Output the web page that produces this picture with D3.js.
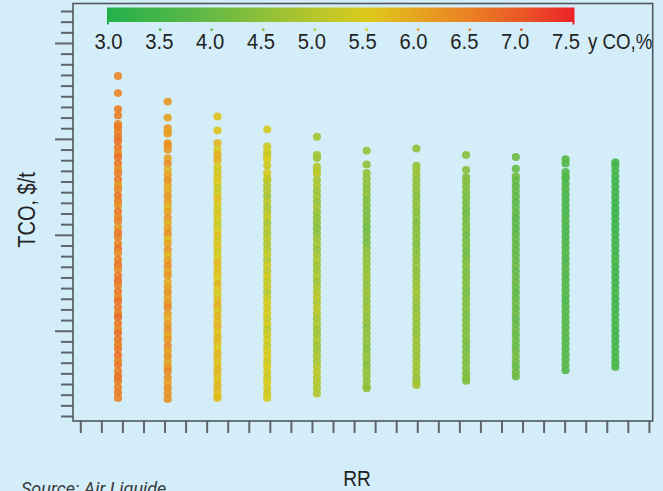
<!DOCTYPE html>
<html>
<head>
<meta charset="utf-8">
<script src="https://cdn.jsdelivr.net/npm/d3@7"></script>
<style>
	html, body { margin: 0; padding: 0; background: #d4eef9; }
	svg { display: block; font-family: 'Liberation Sans', Arial, sans-serif; }
	.vis__axis line { stroke: #5e656c; stroke-width: 2; }
	.vis__axis path { display: none; }
	.vis__frame { fill: none; stroke: #50575e; stroke-width: 1.6; }
	.vis__text { fill: #232323; }
</style>
</head>
<body>
<svg id="chart" width="663" height="491"></svg>
<script>
// RR categories (x), one column of simulated cases each
var RR = ['0.50', '0.55', '0.60', '0.65', '0.70', '0.75', '0.80', '0.85', '0.90', '0.95', '1.00'];

// points per RR column: [TCO $/t, y CO %]
var pointsRR050 = [[259.5,6.4],[251.5,6.4],[244,6.5],[241,6.5],[237,6.4],[235.5,6.6],
	[233.5,6.5],[231,6.6],[229,6.7],[226,6.6],[223.5,6.4],[221.5,6.7],[218.5,6.6],[216,6.3],[214,6.5],[211,6.6],
	[208.5,6.2],[206.5,6.4],[203.5,6.6],[201,6.5],[199,6.3],[196,6.6],[193.5,6.4],[191.5,6.5],[188.5,6.2],[186,6.6],
	[184,6.5],[181,6.4],[178.5,6.7],[176.5,6.3],[173.5,6.5],[171,6.6],[169,6.4],[166,6.6],[163.5,6.7],[161.5,6.5],
	[158.5,6.6],[156,6.4],[154,6.7],[151,6.6],[148.5,6.5],[146.5,6.8],[143.5,6.6],[141,6.4],[139,6.7],[136,6.6],
	[133.5,6.5],[131.5,6.6],[128.5,6.7],[126,6.4],[124,6.6],[121,6.5],[118.5,6.7],[116.5,6.6],[113.5,6.5],[111,6.6],[108.5,6.5]];
var pointsRR055 = [[247.5,6.2],[240,6.1],[235,6.2],[233.5,6.0],[232.5,6.1],[228,6.2],[227,6.3],[225,6.2],[221,6.0],[218.5,6.3],
	[215.5,5.8],[213,6.1],[210.5,6.3],[208,6.0],[205.5,5.9],[203,6.2],[200.5,6.1],[198,5.8],[196,6.0],[193,6.2],
	[190.5,5.9],[188,6.1],[185.5,6.3],[183,5.7],[181,6.0],[178,6.2],[175.5,5.8],[173,6.1],[170.5,6.3],[168,6.0],
	[166,6.2],[163,5.9],[160.5,6.1],[158,6.3],[155.5,6.0],[153,6.2],[151,6.4],[148,6.1],[145.5,5.9],[143,6.2],
	[140.5,6.3],[138,6.0],[136,6.2],[133,6.4],[130.5,6.1],[128,6.3],[125.5,6.0],[123,6.2],[121,6.4],[118,6.3],
	[115.5,6.1],[113,6.3],[110.5,6.2],[108,6.3]];
var pointsRR060 = [[240.5,5.6],[234,5.6],[228,5.8],[225,5.4],[222.5,5.9],[220,5.8],
	[217,5.4],[214.5,5.3],[212,5.6],[209.5,5.5],[207,5.2],[204.5,5.4],[202,5.7],[199.5,5.5],[197,5.3],[194.5,5.6],
	[192,5.4],[189.5,5.2],[187,5.5],[184.5,5.7],[182,5.4],[179.5,5.6],[177,5.3],[174.5,5.5],[172,5.8],[169.5,5.6],
	[167,5.7],[164.5,5.5],[162,5.8],[159.5,5.6],[157,5.4],[154.5,5.7],[152,5.9],[149.5,5.6],[147,5.8],[144.5,5.7],
	[142,5.9],[139.5,5.6],[137,5.8],[134.5,5.7],[132,5.5],[129.5,5.8],[127,5.7],[124.5,5.6],[122,5.8],[119.5,5.7],
	[117,5.6],[114.5,5.8],[112,5.7],[109.5,5.6],[108.5,5.7]];
var pointsRR065 = [[234.5,5.4],[226.5,5.3],[224,5.4],[222.5,5.2],[220.5,5.5],[217.5,5.3],[214,5.4],[211.5,5.2],
	[210.5,5.1],[208,4.9],[205.5,5.0],[203,4.8],[200.5,5.1],[198,4.9],[195.5,5.0],[193,5.2],[190.5,4.8],[188,5.0],
	[185.5,4.9],[183,5.1],[180.5,4.9],[178,5.0],[175.5,5.2],[173,5.0],[170.5,5.3],[168,5.1],[165.5,5.4],[163,5.2],
	[160.5,5.3],[158,5.0],[155.5,5.2],[153,5.4],[150.5,5.3],[148,5.5],[145.5,5.2],[143,5.4],[140.5,5.1],[138,5.3],
	[135.5,5.4],[133,5.2],[130.5,5.4],[128,5.5],[125.5,5.3],[123,5.5],[120.5,5.4],[118,5.3],[115.5,5.5],[113,5.4],
	[110.5,5.3],[108.5,5.4]];
var pointsRR070 = [[231,4.8],[222.5,4.8],[221,4.7],[217,5.0],[215,4.9],[213.5,5.1],
	[210.5,4.8],[208,4.9],[205.5,4.7],[203,4.8],[200.5,4.6],[198,4.8],[195.5,4.6],[193,4.5],[190.5,4.6],[188,4.4],
	[185.5,4.5],[183,4.7],[180.5,4.8],[178,4.6],[175.5,4.8],[173,4.9],[170.5,4.7],[168,4.8],[165.5,4.9],[163,4.7],
	[160.5,4.9],[158,5.0],[155.5,5.1],[153,4.9],[150.5,5.1],[148,5.0],[145.5,4.8],[143,4.9],[140.5,4.7],[138,4.8],
	[135.5,4.9],[133,4.7],[130.5,4.8],[128,4.9],[125.5,4.8],[123,5.0],[120.5,5.1],[118,4.9],[115.5,5.0],[113,4.9],[110.5,5.0]];
var pointsRR075 = [[224.5,4.6],[218,4.5],
	[214,4.6],[211.5,4.5],[209,4.6],[206.5,4.4],[204,4.5],[201.5,4.3],[199,4.4],[196.5,4.3],[194,4.2],[191.5,4.3],
	[189,4.2],[186.5,4.1],[184,4.3],[181.5,4.2],[179,4.4],[176.5,4.5],[174,4.6],[171.5,4.5],[169,4.6],[166.5,4.7],
	[164,4.6],[161.5,4.5],[159,4.7],[156.5,4.6],[154,4.5],[151.5,4.6],[149,4.7],[146.5,4.5],[144,4.6],[141.5,4.4],
	[139,4.5],[136.5,4.6],[134,4.5],[131.5,4.4],[129,4.5],[126.5,4.6],[124,4.4],[121.5,4.5],[119,4.6],[116.5,4.5],
	[114,4.6],[113,4.5]];
var pointsRR080 = [[225.5,4.5],[217.5,4.6],[215.5,4.7],
	[213,4.6],[210.5,4.5],[208,4.6],[205.5,4.5],[203,4.4],[200.5,4.5],[198,4.6],[195.5,4.4],[193,4.5],[190.5,4.3],
	[188,4.4],[185.5,4.5],[183,4.4],[180.5,4.3],[178,4.5],[175.5,4.4],[173,4.5],[170.5,4.6],[168,4.4],[165.5,4.5],
	[163,4.6],[160.5,4.7],[158,4.8],[155.5,4.7],[153,4.6],[150.5,4.5],[148,4.6],[145.5,4.7],[143,4.6],[140.5,4.5],
	[138,4.6],[135.5,4.7],[133,4.6],[130.5,4.7],[128,4.6],[125.5,4.7],[123,4.8],[120.5,4.7],[118,4.6],[116,4.7],[114.5,4.8]];
var pointsRR085 = [[222.5,4.4],[215.5,4.4],[212,4.3],
	[210,4.4],[207.5,4.3],[205,4.4],[202.5,4.2],[200,4.3],[197.5,4.2],[195,4.1],[192.5,4.3],[190,4.2],[187.5,4.3],
	[185,4.1],[182.5,4.2],[180,4.3],[177.5,4.1],[175,4.2],[172.5,4.3],[170,4.4],[167.5,4.2],[165,4.3],[162.5,4.4],
	[160,4.3],[157.5,4.2],[155,4.4],[152.5,4.3],[150,4.4],[147.5,4.2],[145,4.3],[142.5,4.4],[140,4.3],[137.5,4.4],
	[135,4.3],[132.5,4.2],[130,4.3],[127.5,4.4],[125,4.3],[122.5,4.4],[120,4.3],[118,4.4],[116.5,4.3]];
var pointsRR090 = [[221.5,4.1],[216,4.0],[212.5,4.1],
	[210.5,4.0],[208,3.9],[205.5,4.0],[203,3.9],[200.5,3.8],[198,3.9],[195.5,4.0],[193,3.8],[190.5,3.9],[188,3.8],
	[185.5,3.9],[183,4.0],[180.5,3.9],[178,4.0],[175.5,3.9],[173,4.0],[170.5,4.1],[168,3.9],[165.5,4.0],[163,4.1],
	[160.5,4.0],[158,3.9],[155.5,4.0],[153,4.1],[150.5,4.0],[148,4.1],[145.5,3.9],[143,4.0],[140.5,4.1],[138,4.0],
	[135.5,4.1],[133,4.0],[130.5,4.1],[128,4.2],[125.5,4.1],[123,4.0],[120.5,4.1],[118.5,4.1]];
var pointsRR095 = [[220.5,3.8],[218.5,3.7],[214.5,3.7],[212.5,3.8],
	[211.5,3.7],[209,3.6],[206.5,3.7],[204,3.6],[201.5,3.5],[199,3.6],[196.5,3.5],[194,3.6],[191.5,3.7],[189,3.6],
	[186.5,3.5],[184,3.6],[181.5,3.7],[179,3.6],[176.5,3.7],[174,3.6],[171.5,3.7],[169,3.8],[166.5,3.7],[164,3.6],
	[161.5,3.7],[159,3.8],[156.5,3.7],[154,3.6],[151.5,3.7],[149,3.8],[146.5,3.7],[144,3.8],[141.5,3.7],[139,3.8],
	[136.5,3.7],[134,3.8],[131.5,3.7],[129,3.8],[126.5,3.7],[124,3.8],[121.5,3.7]];
var pointsRR100 = [[219,3.5],
	[217.5,3.5],[215,3.6],[212.5,3.5],[210,3.4],[207.5,3.5],[205,3.4],[202.5,3.5],[200,3.3],[197.5,3.4],[195,3.3],
	[192.5,3.4],[190,3.3],[187.5,3.4],[185,3.5],[182.5,3.4],[180,3.5],[177.5,3.4],[175,3.5],[172.5,3.6],[170,3.5],
	[167.5,3.4],[165,3.5],[162.5,3.4],[160,3.5],[157.5,3.6],[155,3.5],[152.5,3.4],[150,3.5],[147.5,3.6],[145,3.5],
	[142.5,3.6],[140,3.5],[137.5,3.4],[135,3.5],[132.5,3.6],[130,3.5],[127.5,3.6],[125,3.5],[123,3.6]];

// colour key values (y CO, %)
var yCOKeyValues = [3.0, 3.5, 4.0, 4.5, 5.0, 5.5, 6.0, 6.5, 7.0, 7.5];

var svg = d3.select('#chart');
var narrow = 0.87; // condensed look for the headline font

var columns = [pointsRR050, pointsRR055, pointsRR060, pointsRR065, pointsRR070, pointsRR075,
	pointsRR080, pointsRR085, pointsRR090, pointsRR095, pointsRR100];

var colorScale = d3.scaleLinear()
	.domain([3.0, 4.0, 5.0, 5.5, 6.0, 6.5, 7.0, 7.5])
	.range(['#22b14c', '#66b945', '#b5c62b', '#dcca1a', '#e6a41f', '#ea7f24', '#ec5626', '#ec2229']);

var x = d3.scalePoint().domain(RR).range([118, 615.3]);
var y = d3.scaleLinear().domain([100, 290]).range([416, 11]);
var xTicks = d3.scaleLinear().domain([0, 27]).range([80.3, 648.9]);

function drawAxes() {
	var yAxis = d3.axisLeft(y)
		.tickValues(d3.range(100, 291, 5))
		.tickSize(12)
		.tickFormat('');

	svg.append('g')
		.classed('vis__axis', true)
		.attr('transform', 'translate(73,0)')
		.call(yAxis)
		.selectAll('.tick line')
		.attr('x2', function(d) { return (290 - d) / 5 % 9 == 3 ? -18 : -12; });

	var xAxis = d3.axisBottom(xTicks)
		.tickValues(d3.range(0, 28))
		.tickSize(12)
		.tickFormat('');

	svg.append('g')
		.classed('vis__axis', true)
		.attr('transform', 'translate(0,421)')
		.call(xAxis);

	svg.append('rect')
		.classed('vis__frame', true)
		.attr('x', 73)
		.attr('y', 3.5)
		.attr('width', 652.7 - 73)
		.attr('height', 421 - 3.5);
}

function drawPoints() {
	var cols = svg.append('g').classed('vis__points', true)
		.selectAll('g').data(columns).enter().append('g')
		.attr('transform', function(d, i) { return 'translate(' + x(RR[i]) + ',0)'; });

	cols.selectAll('ellipse')
		.data(function(d) { return d; })
		.enter().append('ellipse')
			.attr('cx', 0)
			.attr('cy', function(d) { return y(d[0]); })
			.attr('rx', 4.1)
			.attr('ry', 3.9)
			.attr('fill', function(d) { return colorScale(d[1]); })
			.attr('fill-opacity', 0.9);
}

function narrowText(sel, tx, ty, extra, k) {
	return sel.attr('transform', 'translate(' + tx + ',' + ty + ')' + (extra || '') + ' scale(' + (k || narrow) + ',1)');
}

function drawKey() {
	var keyX = d3.scaleLinear().domain([3.0, 7.5]).range([108.5, 573]);
	var labelX = d3.scaleLinear().domain([3.0, 7.5]).range([108.5, 566]);
	var key = svg.append('g').classed('vis__legend', true);

	var grad = svg.append('defs').append('linearGradient')
		.attr('id', 'keyGradient');
	grad.selectAll('stop').data(colorScale.domain()).enter().append('stop')
		.attr('offset', function(d) { return (d - 3) / 4.5; })
		.attr('stop-color', function(d) { return colorScale(d); });

	key.append('rect')
		.attr('x', keyX(3.0) - 1.5)
		.attr('y', 7.5)
		.attr('width', keyX(7.5) - keyX(3.0) + 3)
		.attr('height', 14.5)
		.attr('fill', 'url(#keyGradient)');

	// small end caps under the bar
	[3.0, 7.5].forEach(function(v) {
		key.append('rect')
			.attr('x', v == 3.0 ? keyX(v) - 1.5 : keyX(v) - 0.5)
			.attr('y', 21)
			.attr('width', 2)
			.attr('height', 3.5)
			.attr('fill', colorScale(v));
	});

	key.selectAll('.vis__legend__dot')
		.data(yCOKeyValues.filter(function(v) { return v > 3.0 && v < 7.5; }))
		.enter().append('rect')
			.classed('vis__legend__dot', true)
			.attr('x', function(d) { return keyX(d) - 1.2; })
			.attr('y', 28.5)
			.attr('width', 2.4)
			.attr('height', 2.4)
			.attr('fill', function(d) { return colorScale(d); });

	key.selectAll('.vis__legend__label')
		.data(yCOKeyValues)
		.enter().append('text')
			.classed('vis__legend__label vis__text', true)
			.each(function(d) { narrowText(d3.select(this), labelX(d), 48.5, '', 0.92); })
			.attr('text-anchor', 'middle')
			.style('font-size', '22px')
			.text(function(d) { return d.toFixed(1); });

	narrowText(key.append('text'), 588, 48.5)
		.classed('vis__text', true)
		.style('font-size', '21.5px')
		.text('y CO,%');
}

function drawTitles() {
	narrowText(svg.append('text'), 35, 210, ' rotate(-90)')
		.classed('vis__text', true)
		.attr('text-anchor', 'middle')
		.style('font-size', '23px')
		.text('TCO, $/t');

	narrowText(svg.append('text'), 357, 486)
		.classed('vis__text', true)
		.attr('text-anchor', 'middle')
		.style('font-size', '22px')
		.text('RR');

	svg.append('text')
		.attr('x', 21)
		.attr('y', 495)
		.style('font-family', 'Roboto, sans-serif')
		.style('font-style', 'italic')
		.style('font-size', '18px')
		.attr('fill', '#3a3a3a')
		.text('Source: Air Liquide');
}

drawAxes();
drawPoints();
drawKey();
drawTitles();
</script>
</body>
</html>
